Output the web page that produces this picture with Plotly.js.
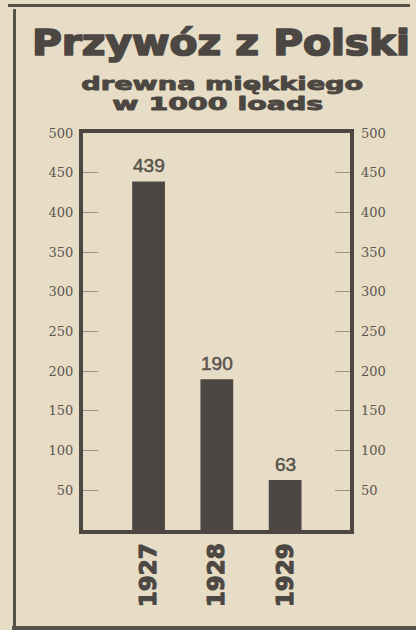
<!DOCTYPE html>
<html><head><meta charset="utf-8">
<script src="https://cdn.plot.ly/plotly-3.0.1.min.js"></script>
<style>
body{margin:0;background:#e7ddc6;}
#wrap{position:relative;width:416px;height:630px;overflow:hidden;background:#e7ddc6;}
#chart{position:absolute;left:0;top:0;width:416px;height:630px;}
.rule{position:absolute;background:#57514b;pointer-events:none;}
</style></head><body>
<div id="wrap"><div id="chart"></div>
<div class="rule" style="left:8px;top:4px;width:402px;height:3px"></div>
<div class="rule" style="left:13px;top:9px;width:3px;height:621px"></div>
<div class="rule" style="left:12px;top:626px;width:404px;height:4px"></div>
</div>
<script>
const years = ['1927', '1928', '1929'];
const imports = [439, 190, 63];
const tickValues = [50, 100, 150, 200, 250, 300, 350, 400, 450, 500];
const tickLabels = ['50', '100', '150', '200', '250', '300', '350', '400', '450', '500'];
const titleMain = 'Przywóz z Polski';
const subtitle1 = 'drewna miękkiego';
const subtitle2 = 'w 1000 loads';

const ink = '#4c4742';
const paper = '#e7ddc6';

const bars = {
  type: 'bar', x: years, y: imports,
  marker: {color: ink, line: {width: 0}},
  width: 0.48, hoverinfo: 'skip', showlegend: false
};
const rightRef = {
  type: 'scatter', mode: 'none', x: years, y: imports, yaxis: 'y2',
  hoverinfo: 'skip', showlegend: false
};

const valueLabels = years.map((yr, i) => ({
  x: i, y: imports[i], xref: 'x', yref: 'y', text: String(imports[i]),
  showarrow: false, yanchor: 'bottom', yshift: 3,
  font: {family: 'Liberation Sans, Arial, sans-serif', size: 19, color: '#57524c'}
}));

const yCommon = {
  range: [0, 500], tickmode: 'array', tickvals: tickValues, ticktext: tickLabels,
  ticks: 'inside', ticklen: 15, tickwidth: 1, tickcolor: '#9b9282',
  showgrid: false, zeroline: false, fixedrange: true,
  tickfont: {family: 'DejaVu Serif, serif', size: 13, color: '#5b5650'}
};

const heavy = {family: 'DejaVu Sans, sans-serif', weight: 'bold', color: ink};

const layout = {
  width: 416, height: 630,
  margin: {l: 83, r: 66, t: 133, b: 100, pad: 0},
  paper_bgcolor: paper, plot_bgcolor: paper,
  title: {
    text: titleMain, x: 221 / 416, xanchor: 'center', y: 1 - 42 / 630, yanchor: 'middle', yref: 'container',
    font: Object.assign({size: 36}, heavy)
  },
  xaxis: {
    type: 'category', range: [-0.96, 2.95], showline: true, linecolor: ink, linewidth: 4, mirror: true,
    ticks: '', tickangle: -90, showgrid: false, zeroline: false,
    tickfont: Object.assign({size: 23}, heavy),
    ticklabelstandoff: 0
  },
  yaxis: Object.assign({}, yCommon, {showline: true, linecolor: ink, linewidth: 4, mirror: true, ticklabelstandoff: 3}),
  yaxis2: Object.assign({}, yCommon, {overlaying: 'y', side: 'right', showline: false, ticklabelstandoff: 10}),
  annotations: valueLabels.concat([
    {xref: 'paper', yref: 'paper', x: (222 - 83) / 267, y: (530 - 83) / 397, text: subtitle1, showarrow: false,
     xanchor: 'center', yanchor: 'middle', font: Object.assign({size: 18}, heavy)},
    {xref: 'paper', yref: 'paper', x: (218 - 83) / 267, y: (530 - 104) / 397, text: subtitle2, showarrow: false,
     xanchor: 'center', yanchor: 'middle', font: Object.assign({size: 18}, heavy)}
  ])
};

Plotly.newPlot('chart', [bars, rightRef], layout, {staticPlot: true, displayModeBar: false}).then(gd => {
  const stretch = (el, w, sw, col) => {
    if (!el) return;
    if (w) {
      el.setAttribute('textLength', w);
      el.setAttribute('lengthAdjust', 'spacingAndGlyphs');
    }
    el.style.stroke = col || ink;
    el.style.strokeWidth = sw + 'px';
    el.style.strokeLinejoin = 'round';
  };
  stretch(gd.querySelector('.gtitle'), 378, 1.7);
  gd.querySelectorAll('.annotation-text').forEach(t => {
    if (t.textContent === subtitle1) stretch(t, 282, 0.9);
    else if (t.textContent === subtitle2) stretch(t, 211, 0.9);
    else stretch(t, null, 0.5, '#57524c');
  });
  gd.querySelectorAll('.xtick text').forEach(t => stretch(t, null, 1.1));
});
</script>
</body></html>
